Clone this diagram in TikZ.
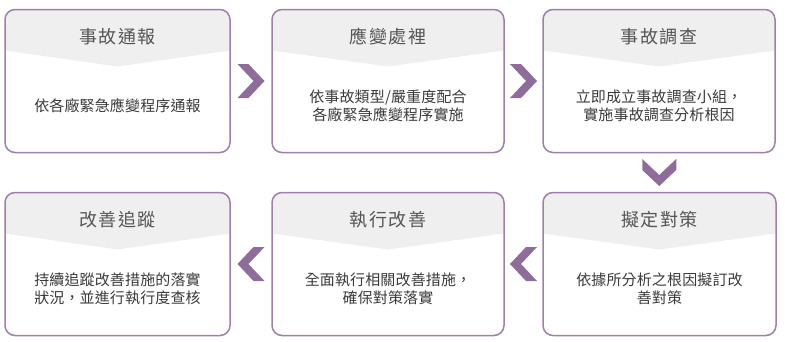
\documentclass[tikz,border=0pt]{standalone}
\usepackage{fontspec}
\setmainfont{Noto Sans CJK TC}
\usetikzlibrary{calc,positioning}

\definecolor{cardline}{HTML}{9E80A8}
\definecolor{chevfill}{HTML}{8E6D9B}
\definecolor{headfill}{HTML}{EFEFEF}
\definecolor{titletext}{HTML}{555555}
\definecolor{bodytext}{HTML}{3A3A3A}

\tikzset{
  card/.style={draw=cardline, line width=1.5pt, rounded corners=10pt, inner sep=0pt, minimum height=143pt},
  cardtitle/.style={font=\fontsize{18}{20}\selectfont\addfontfeature{LetterSpace=8}, text=titletext},
  cardbody/.style={font=\fontsize{15}{18}\selectfont\addfontfeature{LetterSpace=1}, text=bodytext, align=center},
  chevron/.pic={\fill[chevfill] (-13.5,-17) -- (-2.5,-17) -- (13.5,0) -- (-2.5,17) -- (-13.5,17) -- (2.5,0) -- cycle;}
}

\begin{document}
\begin{tikzpicture}[x=1pt,y=-1pt]
\useasboundingbox (0,0) rectangle (785,341);

% ===== Cards (header band + frame) =====
\foreach \n/\xl/\xr/\yt in {1/5/230/9.5, 2/272/504/9.5, 3/543/775/9.5,
                            4/543/776/192.5, 5/272/504/192.5, 6/5/230/192.5} {
  \begin{scope}
    \clip[rounded corners=10pt] (\xl,\yt) rectangle (\xr,\yt+143);
    \fill[headfill] (\xl,\yt) -- (\xr,\yt) -- (\xr,\yt+41) -- ({(\xl+\xr)/2},\yt+57) -- (\xl,\yt+41) -- cycle;
  \end{scope}
  \node[card, minimum width=\xr-\xl] (s\n) at ({(\xl+\xr)/2},\yt+71.5) {};
}

% ===== Titles =====
\node[cardtitle] (t1) at ($(s1.north)+(0,28)$) {事故通報};
\node[cardtitle] (t2) at ($(s2.north)+(0,28)$) {應變處裡};
\node[cardtitle] (t3) at ($(s3.north)+(0,28)$) {事故調查};
\node[cardtitle] (t4) at ($(s4.north)+(0,28)$) {擬定對策};
\node[cardtitle] (t5) at ($(s5.north)+(0,28)$) {執行改善};
\node[cardtitle] (t6) at ($(s6.north)+(0,28)$) {改善追蹤};

% ===== Descriptions =====
\node[cardbody] (d1) at ($(s1.north)+(0,97)$) {依各廠緊急應變程序通報};
\node[cardbody] (d2) at ($(s2.north)+(0,97)$) {依事故類型/嚴重度配合\\各廠緊急應變程序實施};
\node[cardbody] (d3) at ($(s3.north)+(0,97)$) {立即成立事故調查小組，\\實施事故調查分析根因};
\node[cardbody] (d4) at ($(s4.north)+(0,97)$) {依據所分析之根因擬訂改\\善對策};
\node[cardbody] (d5) at ($(s5.north)+(0,97)$) {全面執行相關改善措施，\\確保對策落實};
\node[cardbody] (d6) at ($(s6.north)+(0,97)$) {持續追蹤改善措施的落實\\狀況，並進行執行度查核};

% ===== Chevrons between cards =====
\pic at ($(s1.east)!0.5!(s2.west)$) {chevron};
\pic at ($(s2.east)!0.5!(s3.west)$) {chevron};
\pic[rotate=-90] at ($(s3.south)!0.5!(s4.north)$) {chevron};
\pic[rotate=180] at ($(s4.west)!0.5!(s5.east)$) {chevron};
\pic[rotate=180] at ($(s5.west)!0.5!(s6.east)$) {chevron};

\end{tikzpicture}
\end{document}
